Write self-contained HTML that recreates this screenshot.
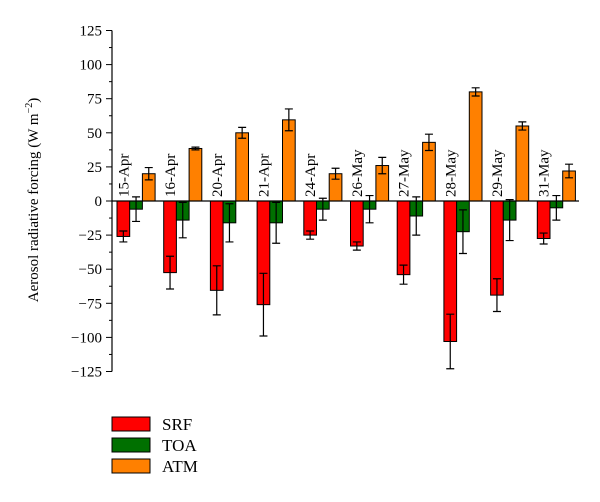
<!DOCTYPE html>
<html><head><meta charset="utf-8"><style>
body{margin:0;background:#fff}
svg text{font-family:"Liberation Serif",serif;fill:#000}
</style></head><body>
<svg width="600" height="497" viewBox="0 0 600 497" xmlns="http://www.w3.org/2000/svg">
<g id="plot"></g>
<text transform="translate(38,200) rotate(-90)" text-anchor="middle" font-size="15">Aerosol radiative forcing (W m<tspan dy="-6" font-size="10">−2</tspan><tspan dy="6">)</tspan></text>
<g>
<rect x="112" y="417" width="38" height="14" fill="#ff0000" stroke="#000"/>
<text x="162" y="430" font-size="17">SRF</text>
<rect x="112" y="438" width="38" height="14" fill="#007000" stroke="#000"/>
<text x="162" y="451" font-size="17">TOA</text>
<rect x="112" y="459" width="38" height="14" fill="#ff8000" stroke="#000"/>
<text x="162" y="472" font-size="17">ATM</text>
</g>
</svg>
<script>
const categories=["15-Apr","16-Apr","20-Apr","21-Apr","24-Apr","26-May","27-May","28-May","29-May","31-May"];
const srf=[-26,-52.5,-65.5,-76,-25,-33,-54,-103,-69,-27.5];
const srfErr=[4,12,18,23,3,3,7,20,12,4];
const toa=[-6,-14,-16,-16,-6,-6,-11,-22.5,-14,-5];
const toaErr=[9,13,14,15,8,10,14,16,15,9];
const atm=[20,38.5,50,59.5,20,26,43,80,55,22];
const atmErr=[4.5,1,4,8,4,6,6,3,3,5];
const yTicks=[125,100,75,50,25,0,-25,-50,-75,-100,-125];
const yTickLabels=["125","100","75","50","25","0","−25","−50","−75","−100","−125"];

const NS="http://www.w3.org/2000/svg";
const g=document.getElementById('plot');
const x0=112,x1=579,groupW=(x1-x0)/categories.length,barW=12.7;
function y(v){return 201-v*34.1/25;}
function mk(t,a){const e=document.createElementNS(NS,t);for(const k in a)e.setAttribute(k,a[k]);g.appendChild(e);return e;}
// axis
let ax=mk('line',{x1:x0,x2:x0,y1:y(125),y2:y(-125),stroke:'#000','stroke-width':1.2});


for(let i=0;i<yTicks.length;i++){
  const v=yTicks[i];
  const t=mk('line',{x1:x0-6,x2:x0,y1:y(v),y2:y(v),stroke:'#000'});
  
  
  const l=mk('text',{x:x0-10,y:y(v)+5,'text-anchor':'end','font-size':15});
  l.textContent=yTickLabels[i];
  
  
  if(i<yTicks.length-1){
    const m=mk('line',{x1:x0-3,x2:x0,y1:y(v-12.5),y2:y(v-12.5),stroke:'#000'});
    
    
  }
}
const series=[[srf,srfErr,'#ff0000','srf'],[toa,toaErr,'#007000','toa'],[atm,atmErr,'#ff8000','atm']];
categories.forEach((c,i)=>{
  const gx=x0+i*groupW+5;
  series.forEach((s,j)=>{
    const v=s[0][i],e=s[1][i],bx=gx+j*barW;
    const top=Math.min(y(v),y(0)),h=Math.abs(y(v)-y(0));
    const r=mk('rect',{x:bx,y:top,width:barW,height:h,fill:s[2],stroke:'#000','stroke-width':1});
    
    
    const cx=bx+barW/2;
    const el=mk('path',{d:`M${cx},${y(v-e)}V${y(v+e)}M${cx-4},${y(v-e)}h8M${cx-4},${y(v+e)}h8`,stroke:'#000','stroke-width':1.2,fill:'none'});
    
    
  });
  const lx=gx+barW/2+5,ly=197;
  const t=mk('text',{transform:`translate(${lx},${ly}) rotate(-90)`,'font-size':15});
  t.textContent=c;
  
  
});
const z=mk('line',{x1:x0,x2:x1,y1:y(0),y2:y(0),stroke:'#000','stroke-width':1.2});


</script>
</body></html>
